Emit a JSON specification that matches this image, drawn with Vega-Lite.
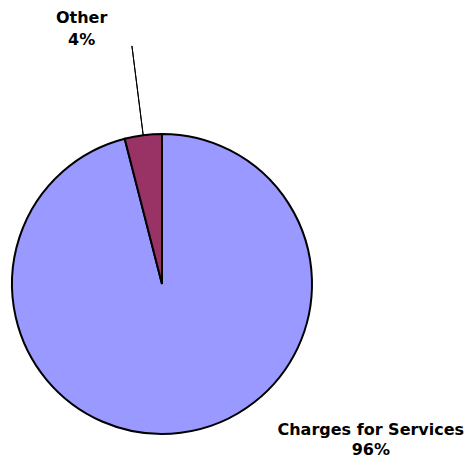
{
  "$schema": "https://vega.github.io/schema/vega-lite/v6.json",
  "width": 300,
  "height": 300,
  "autosize": {"type": "none"},
  "padding": {"left": 12, "top": 134, "right": 154, "bottom": 24},
  "background": "white",
  "view": {"stroke": null},
  "data": {
    "values": [
      {"category": "Charges for Services", "share": 0.96},
      {"category": "Other", "share": 0.04}
    ]
  },
  "encoding": {
    "theta": {"field": "share", "type": "quantitative", "stack": true},
    "detail": {"field": "category", "type": "nominal"},
    "order": {"field": "category", "type": "ordinal", "sort": "ascending"}
  },
  "layer": [
    {
      "mark": {"type": "arc", "radius": 150, "stroke": "black", "strokeWidth": 2},
      "encoding": {
        "color": {
          "field": "category",
          "type": "nominal",
          "scale": {"domain": ["Charges for Services", "Other"], "range": ["#9999FF", "#993366"]},
          "legend": null
        }
      }
    },
    {
      "mark": {"type": "arc", "radius": 150, "radius2": 240, "padAngle": 1, "fill": null, "stroke": "black", "strokeWidth": 1},
      "encoding": {
        "strokeOpacity": {"condition": {"test": "datum.category === 'Other'", "value": 1}, "value": 0}
      }
    },
    {
      "mark": {"type": "text", "radius": 266, "dx": -47, "dy": 3, "baseline": "alphabetic", "align": "center", "font": "DejaVu Sans", "fontWeight": "bold", "fontSize": 16, "fill": "black"},
      "encoding": {
        "text": {"field": "category", "type": "nominal"},
        "opacity": {"condition": {"test": "datum.category === 'Other'", "value": 1}, "value": 0}
      }
    },
    {
      "mark": {"type": "text", "radius": 266, "dx": -47, "dy": 25, "baseline": "alphabetic", "align": "center", "font": "DejaVu Sans", "fontWeight": "bold", "fontSize": 16, "fill": "black"},
      "encoding": {
        "text": {"field": "share", "type": "quantitative", "format": ".0%"},
        "opacity": {"condition": {"test": "datum.category === 'Other'", "value": 1}, "value": 0}
      }
    },
    {
      "mark": {"type": "text", "radius": 150, "dx": 190, "dy": 2, "baseline": "alphabetic", "align": "center", "font": "DejaVu Sans", "fontWeight": "bold", "fontSize": 16, "fill": "black"},
      "encoding": {
        "text": {"field": "category", "type": "nominal"},
        "opacity": {"condition": {"test": "datum.category === 'Charges for Services'", "value": 1}, "value": 0}
      }
    },
    {
      "mark": {"type": "text", "radius": 150, "dx": 190, "dy": 22, "baseline": "alphabetic", "align": "center", "font": "DejaVu Sans", "fontWeight": "bold", "fontSize": 16, "fill": "black"},
      "encoding": {
        "text": {"field": "share", "type": "quantitative", "format": ".0%"},
        "opacity": {"condition": {"test": "datum.category === 'Charges for Services'", "value": 1}, "value": 0}
      }
    }
  ]
}
